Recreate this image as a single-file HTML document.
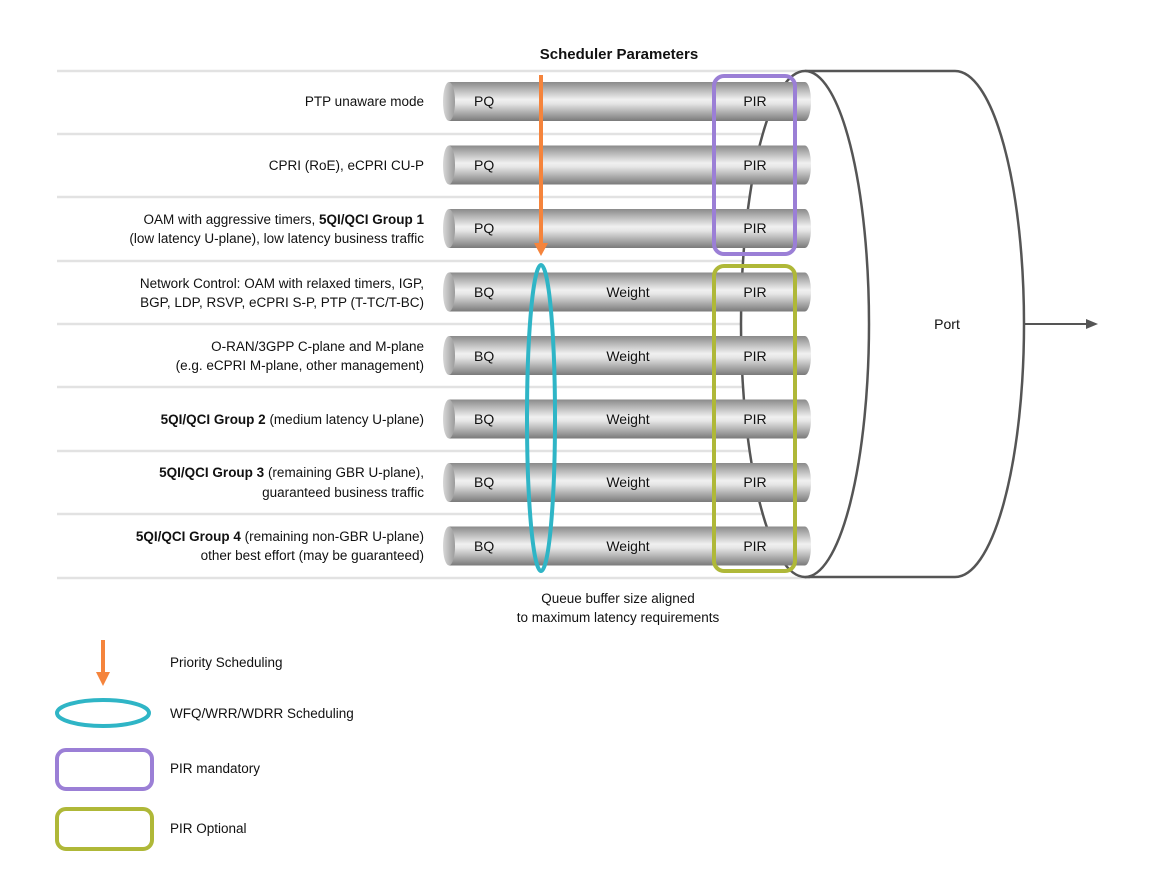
<!DOCTYPE html>
<html><head><meta charset="utf-8"><style>
html,body{margin:0;padding:0;background:#fff;}
svg{display:block;font-family:"Liberation Sans",sans-serif;}
</style></head><body>
<svg width="1155" height="894" viewBox="0 0 1155 894" xmlns="http://www.w3.org/2000/svg">
<defs>
<linearGradient id="pg" x1="0" y1="0" x2="0" y2="1">
<stop offset="0" stop-color="#8a8a8a"/><stop offset="0.45" stop-color="#f0f0f0"/><stop offset="0.55" stop-color="#e6e6e6"/><stop offset="1" stop-color="#7a7a7a"/>
</linearGradient>
<linearGradient id="cg" x1="0" y1="0" x2="1" y2="0">
<stop offset="0" stop-color="#d8d8d8"/><stop offset="1" stop-color="#9a9a9a"/>
</linearGradient>
<g id="pipe">
<path d="M449,-19.5 H805 A6,19.5 0 0 1 805,19.5 H449 Z" fill="url(#pg)"/>
<ellipse cx="449" cy="0" rx="6" ry="19.5" fill="url(#cg)"/>
</g>
</defs>
<g stroke="#e2e2e2" stroke-width="2.5">
<line x1="57" y1="71" x2="810" y2="71"/>
<line x1="57" y1="134" x2="810" y2="134"/>
<line x1="57" y1="197" x2="810" y2="197"/>
<line x1="57" y1="261" x2="810" y2="261"/>
<line x1="57" y1="324" x2="810" y2="324"/>
<line x1="57" y1="387" x2="810" y2="387"/>
<line x1="57" y1="451" x2="810" y2="451"/>
<line x1="57" y1="514" x2="810" y2="514"/>
<line x1="57" y1="578" x2="810" y2="578"/>
</g>
<!-- port -->
<path d="M805,71 H955 A69,253 0 0 1 955,577 H805" fill="#fff" stroke="#555" stroke-width="2.5"/>
<ellipse cx="805" cy="324" rx="64" ry="253" fill="#fff" stroke="#555" stroke-width="2.5"/>
<text x="947" y="329" font-size="14" text-anchor="middle" fill="#111">Port</text>
<line x1="1025" y1="324" x2="1088" y2="324" stroke="#555" stroke-width="2"/>
<polygon points="1098,324 1086,319 1086,329" fill="#555"/>
<!-- pipes -->
<use href="#pipe" y="101.5"/><use href="#pipe" y="165"/><use href="#pipe" y="228.5"/>
<use href="#pipe" y="292"/><use href="#pipe" y="355.5"/><use href="#pipe" y="419"/>
<use href="#pipe" y="482.5"/><use href="#pipe" y="546"/>
<g font-size="14" fill="#111">
<text x="474" y="106">PQ</text><text x="474" y="170">PQ</text><text x="474" y="233">PQ</text>
<text x="474" y="297">BQ</text><text x="474" y="361">BQ</text><text x="474" y="424">BQ</text><text x="474" y="487">BQ</text><text x="474" y="551">BQ</text>
<g text-anchor="middle">
<text x="628" y="297">Weight</text><text x="628" y="361">Weight</text><text x="628" y="424">Weight</text><text x="628" y="487">Weight</text><text x="628" y="551">Weight</text>
<text x="755" y="106">PIR</text><text x="755" y="170">PIR</text><text x="755" y="233">PIR</text><text x="755" y="297">PIR</text><text x="755" y="361">PIR</text><text x="755" y="424">PIR</text><text x="755" y="487">PIR</text><text x="755" y="551">PIR</text>
</g></g>
<!-- inner visible port curve over pipes -->
<path d="M790,80 Q742,324 790,570" fill="none" stroke="#555" stroke-width="2.5" opacity="0"/>
<!-- overlays -->
<line x1="541" y1="75" x2="541" y2="245" stroke="#f5843c" stroke-width="4"/>
<polygon points="534,243 548,243 541,256" fill="#f5843c"/>
<ellipse cx="541" cy="418" rx="14" ry="153" fill="none" stroke="#2fb5c6" stroke-width="4"/>
<rect x="714" y="76" width="81" height="178" rx="10" fill="none" stroke="#9b7fd6" stroke-width="4"/>
<rect x="714" y="266" width="81" height="305" rx="10" fill="none" stroke="#afb838" stroke-width="4"/>
<text x="619" y="59" font-size="15" font-weight="bold" text-anchor="middle" fill="#111">Scheduler Parameters</text>
<g font-size="13.5" text-anchor="middle" fill="#111">
<text x="618" y="603">Queue buffer size aligned</text>
<text x="618" y="622">to maximum latency requirements</text>
</g>
<!-- labels -->
<g font-size="13.5" text-anchor="end" fill="#111">
<text x="424" y="106">PTP unaware mode</text>
<text x="424" y="170">CPRI (RoE), eCPRI CU-P</text>
<text x="424" y="224">OAM with aggressive timers, <tspan font-weight="bold">5QI/QCI Group 1</tspan></text>
<text x="424" y="243">(low latency U-plane), low latency business traffic</text>
<text x="424" y="288">Network Control: OAM with relaxed timers, IGP,</text>
<text x="424" y="307">BGP, LDP, RSVP, eCPRI S-P, PTP (T-TC/T-BC)</text>
<text x="424" y="351">O-RAN/3GPP C-plane and M-plane</text>
<text x="424" y="370">(e.g. eCPRI M-plane, other management)</text>
<text x="424" y="424"><tspan font-weight="bold">5QI/QCI Group 2</tspan> (medium latency U-plane)</text>
<text x="424" y="477"><tspan font-weight="bold">5QI/QCI Group 3</tspan> (remaining GBR U-plane),</text>
<text x="424" y="497">guaranteed business traffic</text>
<text x="424" y="541"><tspan font-weight="bold">5QI/QCI Group 4</tspan> (remaining non-GBR U-plane)</text>
<text x="424" y="560">other best effort (may be guaranteed)</text>
</g>
<!-- legend -->
<line x1="103" y1="640" x2="103" y2="674" stroke="#f5843c" stroke-width="4"/>
<polygon points="96,672 110,672 103,686" fill="#f5843c"/>
<ellipse cx="103" cy="713" rx="46" ry="13" fill="none" stroke="#2fb5c6" stroke-width="4"/>
<rect x="57" y="750" width="95" height="39" rx="9" fill="none" stroke="#9b7fd6" stroke-width="4"/>
<rect x="57" y="809" width="95" height="40" rx="9" fill="none" stroke="#afb838" stroke-width="4"/>
<g font-size="13.5" fill="#111">
<text x="170" y="667">Priority Scheduling</text>
<text x="170" y="718">WFQ/WRR/WDRR Scheduling</text>
<text x="170" y="773">PIR mandatory</text>
<text x="170" y="833">PIR Optional</text>
</g>
</svg>
</body></html>
